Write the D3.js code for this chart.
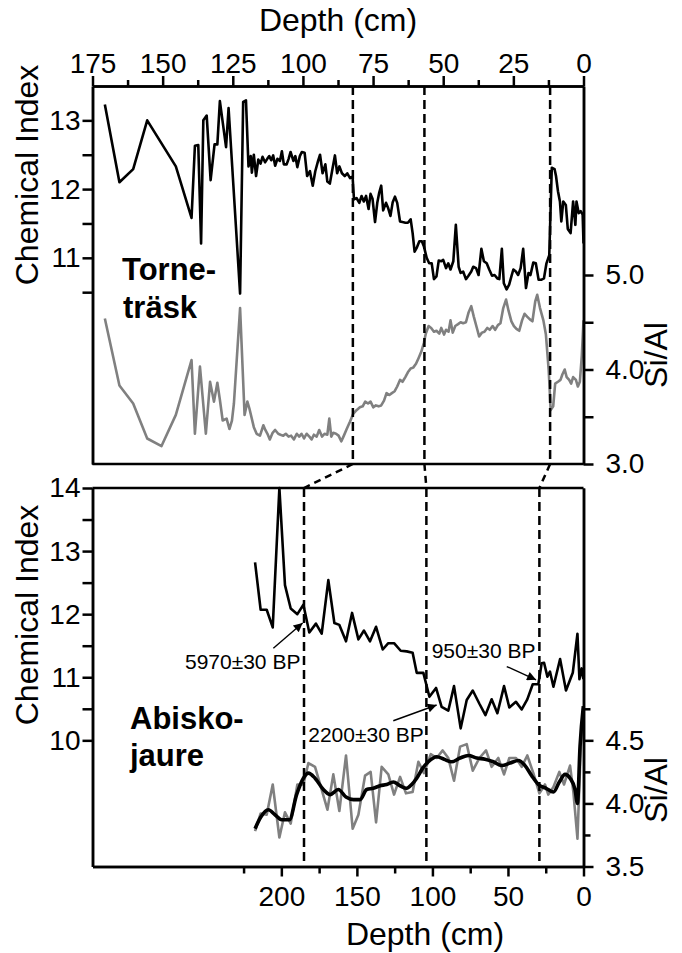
<!DOCTYPE html>
<html><head><meta charset="utf-8">
<script src="https://cdn.jsdelivr.net/npm/d3@7"></script>
<style>
html,body{margin:0;padding:0;background:#fff;}
svg{display:block;font-family:"Liberation Sans",Arial,sans-serif;}
</style></head>
<body>
<svg id="chart" width="682" height="953"></svg>
<script>
// ---------- DATA ----------
// Torneträsk (top panel): Chemical Index vs depth
const tDepthCI = [170.6,165.4,160.5,155.5,145.3,139.7,138.5,137.3,136.3,135.5,134.3,132.9,131.5,130.5,129.6,127.4,126.5,122.4,121.3,120.3,119.4,118.6,118.2,117.5,116.7,115.9,115.1,114.4,113.5,112.7,112.0,111.3,110.6,109.9,109.1,108.2,107.5,106.8,105.8,105.1,104.4,103.4,102.7,102.0,101.1,100.4,99.4,98.5,97.5,96.5,95.6,94.6,93.9,93.0,92.0,91.3,90.4,89.4,88.6,87.8,87.0,86.1,85.1,84.2,83.2,82.3,81.8,80.9,79.9,79.1,78.3,77.5,76.6,75.9,75.2,74.3,73.5,72.8,72.1,71.4,70.4,69.6,68.8,68.0,67.2,66.4,65.4,64.5,63.5,62.6,61.6,60.9,60.2,59.5,58.5,57.6,56.9,55.9,55.0,54.1,53.3,52.4,51.6,50.7,50.0,49.0,48.2,47.4,46.4,45.5,44.5,43.8,42.9,41.9,41.0,40.0,39.3,38.3,37.4,36.4,35.5,34.5,33.6,32.6,31.7,30.7,30.0,29.1,28.4,27.4,26.5,25.7,25.0,24.1,23.3,22.4,21.5,20.5,19.6,18.9,17.9,17.0,16.0,15.1,14.1,13.2,12.2,11.3,10.3,9.8,9.1,8.4,7.9,7.2,6.3,5.6,4.6,3.7,2.9,2.5,1.7,1.0,0.3,0.0];
const tCI = [13.23,12.10,12.29,13.00,12.33,11.58,12.63,12.64,11.21,13.00,13.07,12.13,12.65,12.65,13.28,12.61,13.18,10.48,13.27,13.29,12.33,12.48,12.24,12.50,12.19,12.43,12.37,12.47,12.39,12.44,12.48,12.42,12.49,12.34,12.44,12.41,12.55,12.36,12.36,12.44,12.54,12.41,12.48,12.32,12.48,12.54,12.53,12.19,12.26,12.05,12.26,12.41,12.50,12.23,12.36,12.11,12.08,12.31,12.49,12.23,12.33,12.23,12.19,12.23,12.16,12.18,11.85,11.87,11.80,11.90,11.82,11.90,11.71,11.93,11.86,11.52,11.80,11.95,12.05,11.69,11.80,11.72,11.61,11.81,11.89,11.80,11.53,11.52,11.51,11.51,11.56,11.36,11.09,11.14,11.24,11.24,11.17,11.00,10.92,10.92,10.69,10.73,10.96,10.95,10.97,10.85,10.92,10.83,10.95,11.48,10.87,10.78,10.80,10.69,10.74,10.80,10.87,10.85,10.75,11.13,10.95,10.92,10.83,10.74,10.75,10.70,10.69,11.13,10.63,10.54,10.61,10.73,10.83,10.80,10.75,10.85,11.13,10.56,10.78,10.75,10.93,10.92,10.68,10.68,10.70,10.92,11.04,12.31,12.29,12.19,11.97,11.82,11.53,11.82,11.77,11.42,11.36,11.82,11.48,11.82,11.65,11.68,11.63,11.21];

// Torneträsk: Si/Al vs depth
const tDepthSi = [170.6,165.4,160.5,155.5,150.4,145.3,139.7,138.5,136.7,134.6,133.1,131.7,130.5,129.6,128.6,127.2,126.2,125.3,124.6,122.4,120.8,119.8,119.1,117.5,116.5,115.3,114.1,113.4,112.5,111.8,110.8,109.9,108.8,108.0,107.0,106.1,105.1,104.2,103.2,102.2,101.3,100.5,99.6,98.7,97.7,96.9,96.1,95.1,94.2,93.2,92.3,91.3,90.6,89.9,89.2,88.2,87.3,86.3,85.4,84.4,83.2,82.1,80.9,79.7,78.7,77.8,76.8,75.9,74.9,74.0,73.0,72.1,71.1,70.2,69.2,68.3,67.3,66.4,65.4,64.5,63.5,62.6,61.6,60.7,59.7,58.8,57.8,56.9,56.2,55.2,54.3,53.3,52.4,51.4,50.7,49.7,49.0,48.1,47.4,46.6,45.7,44.7,43.8,42.9,41.9,41.0,40.0,39.1,38.1,37.2,36.2,35.3,34.3,33.4,32.4,31.5,30.5,29.6,28.6,27.6,26.7,25.7,24.8,23.9,22.9,21.9,21.0,20.1,19.1,18.2,17.2,16.5,15.5,14.3,13.4,12.4,11.7,10.8,10.1,9.1,8.2,7.5,6.7,6.0,5.1,4.4,3.7,2.7,2.0,1.3,0.6,0.0];
const tSi = [4.54,3.83,3.64,3.27,3.19,3.52,4.10,3.32,4.03,3.32,3.87,3.66,3.86,3.68,3.46,3.48,3.37,3.46,3.64,4.65,3.52,3.66,3.59,3.39,3.32,3.30,3.41,3.36,3.31,3.26,3.33,3.36,3.32,3.31,3.30,3.32,3.29,3.30,3.26,3.32,3.29,3.32,3.27,3.32,3.29,3.26,3.31,3.29,3.36,3.29,3.32,3.31,3.48,3.29,3.33,3.32,3.30,3.24,3.30,3.37,3.45,3.53,3.57,3.60,3.61,3.66,3.64,3.66,3.60,3.62,3.61,3.62,3.67,3.75,3.73,3.75,3.77,3.82,3.89,3.87,3.92,3.97,4.01,4.02,4.06,4.12,4.19,4.28,4.38,4.46,4.44,4.40,4.41,4.38,4.44,4.37,4.42,4.40,4.52,4.39,4.46,4.48,4.50,4.49,4.50,4.60,4.67,4.56,4.45,4.35,4.39,4.40,4.44,4.42,4.46,4.42,4.47,4.49,4.65,4.74,4.62,4.51,4.46,4.43,4.41,4.52,4.59,4.56,4.53,4.51,4.72,4.79,4.65,4.52,4.37,3.99,3.57,3.61,3.85,3.87,3.89,3.95,4.00,3.92,3.89,3.85,3.92,3.89,3.82,3.87,4.15,4.52];

// Abiskojaure (bottom panel): Chemical Index vs depth
const bDepthCI = [217.4,213.7,209.7,205.7,201.3,197.6,193.8,189.4,185.4,181.5,177.1,173.3,168.9,164.9,161.6,157.2,153.2,149.0,145.3,141.3,137.3,132.9,129.2,125.4,121.0,117.0,113.1,110.4,106.0,102.0,97.6,93.9,89.5,85.7,81.3,77.3,73.3,68.9,64.9,60.8,57.0,52.6,49.1,44.7,40.9,37.2,33.6,29.9,27.7,26.1,23.9,22.2,19.9,15.5,11.6,7.1,4.0,2.7,1.2,0.1];
const bCI = [12.82,12.07,12.07,11.79,14.00,12.46,12.09,12.00,12.15,11.71,11.85,11.69,12.54,11.86,11.83,11.57,12.02,11.60,11.74,11.57,11.80,11.44,11.54,11.54,11.42,11.41,11.39,11.07,11.07,10.69,10.83,10.53,10.47,10.86,10.19,10.64,10.79,10.58,10.40,10.65,10.43,10.86,10.52,10.61,10.49,10.65,10.89,10.89,11.22,11.23,11.01,11.09,10.85,11.29,10.79,11.07,11.69,10.97,11.14,10.97];

// Abiskojaure: Si/Al raw and smoothed
const bDepthSi = [217.4,213.7,209.7,205.7,201.3,197.6,193.8,189.4,185.4,182.1,177.7,173.3,169.5,165.6,161.6,157.2,152.8,149.0,144.6,140.9,137.3,133.6,129.2,125.4,121.4,117.5,113.1,109.3,105.6,101.1,97.2,93.2,89.5,85.7,81.7,77.3,73.3,68.9,64.5,60.8,56.4,52.6,49.1,44.7,40.9,37.2,33.2,29.2,25.5,23.3,19.9,16.0,12.9,8.9,6.7,4.0,1.8,0.1];
const bSi = [3.78,3.92,3.91,4.15,3.73,3.93,3.84,4.15,4.15,4.32,4.29,4.11,3.95,4.23,3.94,4.38,3.80,3.91,4.22,4.25,3.85,4.29,4.23,4.07,4.21,4.08,4.09,4.33,4.24,4.39,4.36,4.42,4.36,4.18,4.45,4.47,4.26,4.36,4.42,4.29,4.36,4.23,4.36,4.36,4.29,4.38,4.24,4.08,4.15,4.07,4.13,4.25,4.15,4.30,4.09,3.72,4.45,4.77];
const bDepthSmooth = [217.4,213.7,208.6,204.2,199.8,194.7,189.9,185.4,182.1,177.7,172.2,167.8,162.3,157.2,152.3,147.9,143.5,139.1,134.7,130.3,125.9,121.4,117.0,113.7,110.4,106.4,102.7,97.2,92.3,87.3,81.7,76.2,70.7,65.2,59.7,54.2,48.6,43.1,38.7,34.3,29.9,24.8,19.9,16.0,12.2,8.9,5.6,4.0,2.3,0.1];
const bSmooth = [3.80,3.89,3.95,3.91,3.87,3.87,4.07,4.20,4.24,4.20,4.11,4.07,4.11,4.05,4.03,4.03,4.11,4.12,4.14,4.15,4.17,4.14,4.12,4.15,4.20,4.28,4.33,4.37,4.35,4.33,4.36,4.38,4.36,4.35,4.33,4.30,4.32,4.34,4.30,4.22,4.15,4.12,4.09,4.17,4.23,4.20,4.11,4.00,4.45,4.77];

// Tie points (dashed correlation lines), depth in cm
const tieTop = [82.2, 56.7, 11.9];
const tieBottom = [185, 104, 29.2];

// Tick values
const topDepthTicks = [175,150,125,100,75,50,25,0];
const topDepthMinor = [162.5,137.5,112.5,87.5,62.5,37.5,12.5];
const topCITicks = [13,12,11];
const topCIMinor = [12.5,11.5,10.5];
const topSiTicks = [5,4,3];
const topSiMinor = [4.5,3.5];
const botDepthTicks = [200,150,100,50,0];
const botDepthMinor = [225,175,125,75,25];
const botCITicks = [14,13,12,11,10];
const botCIMinor = [13.5,12.5,11.5,10.5];
const botSiTicks = [4.5,4.0,3.5];
const botSiMinor = [4.75,4.25,3.75];

// Annotations: label, text anchor (depth, CI), arrow tail (depth, CI), arrow tip (depth, CI)
const annLabels = ["5970±30 BP","950±30 BP","2200±30 BP"];
const annText = [[263.8,11.13],[100.5,11.30],[182.2,9.98]];
const annTail = [[205.3,11.46],[50.8,11.17],[125.9,10.31]];
const annTip = [[185.9,11.86],[31.4,10.96],[97.2,10.56]];

// ---------- LAYOUT ----------
const L = 92.5, R = 583.5;
const T1 = 86, B1 = 464, T2 = 488, B2 = 866.5;

const xTop = d3.scaleLinear().domain([175,0]).range([L,R]);
const yTopCI = d3.scaleLinear().domain([8,13.5]).range([B1,T1]);
const yTopSi = d3.scaleLinear().domain([3,7]).range([B1,T1]);
const xBot = d3.scaleLinear().domain([325,0]).range([L,R]);
const yBotCI = d3.scaleLinear().domain([8,14]).range([B2,T2]);
const yBotSi = d3.scaleLinear().domain([3.5,6.5]).range([B2,T2]);

const svg = d3.select("#chart");
svg.append("rect").attr("width",682).attr("height",953).attr("fill","#fff");

const defs = svg.append("defs");
defs.append("marker").attr("id","arr").attr("viewBox","0 0 10 10")
  .attr("refX",10).attr("refY",5).attr("markerWidth",12).attr("markerHeight",9)
  .attr("markerUnits","userSpaceOnUse").attr("orient","auto")
  .append("path").attr("d","M0,0 L10,5 L0,10 Z").attr("fill","#000");

const tickFont = "28px";
const titleFont = "32px";

function styleAxis(g){
  g.selectAll("path.domain").attr("stroke","#000").attr("stroke-width",2.5);
  g.selectAll(".tick line").attr("stroke","#000").attr("stroke-width",2.5);
  g.selectAll(".tick text").attr("fill","#000").style("font-size",tickFont)
    .style("font-family",'"Liberation Sans",Arial,sans-serif');
}
function addAxis(axis, tx, ty){
  const g = svg.append("g").attr("transform",`translate(${tx},${ty})`).call(axis);
  styleAxis(g);
  return g;
}

// ---------- TOP PANEL ----------
const lineTopCI = d3.line().x(d=>xTop(d[0])).y(d=>yTopCI(d[1]));
const lineTopSi = d3.line().x(d=>xTop(d[0])).y(d=>yTopSi(d[1]));
svg.append("path").datum(d3.zip(tDepthSi,tSi)).attr("d",lineTopSi)
  .attr("fill","none").attr("stroke","#808080").attr("stroke-width",2.6).attr("stroke-linejoin","round");
svg.append("path").datum(d3.zip(tDepthCI,tCI)).attr("d",lineTopCI)
  .attr("fill","none").attr("stroke","#000").attr("stroke-width",2.6).attr("stroke-linejoin","round");

// top axis
addAxis(d3.axisTop(xTop).tickValues(topDepthTicks).tickSize(10).tickPadding(3).tickSizeOuter(0).tickFormat(d3.format("d")),0,T1);
addAxis(d3.axisTop(xTop).tickValues(topDepthMinor).tickSize(6).tickFormat("").tickSizeOuter(0),0,T1);
// left axis
addAxis(d3.axisLeft(yTopCI).tickValues(topCITicks).tickSize(10).tickPadding(2).tickSizeOuter(0).tickFormat(d3.format("d")),L,0);
addAxis(d3.axisLeft(yTopCI).tickValues(topCIMinor).tickSize(10).tickFormat("").tickSizeOuter(0),L,0);
// right axis
addAxis(d3.axisRight(yTopSi).tickValues(topSiTicks).tickSize(10).tickPadding(12).tickSizeOuter(0).tickFormat(d3.format(".1f")),R,0);
addAxis(d3.axisRight(yTopSi).tickValues(topSiMinor).tickSize(10).tickFormat("").tickSizeOuter(0),R,0);
// bottom frame line
svg.append("line").attr("x1",L).attr("x2",R).attr("y1",B1).attr("y2",B1).attr("stroke","#000").attr("stroke-width",2.5);

// ---------- BOTTOM PANEL ----------
const lineBotCI = d3.line().x(d=>xBot(d[0])).y(d=>yBotCI(d[1]));
const lineBotSi = d3.line().x(d=>xBot(d[0])).y(d=>yBotSi(d[1]));
svg.append("path").datum(d3.zip(bDepthSi,bSi)).attr("d",lineBotSi)
  .attr("fill","none").attr("stroke","#808080").attr("stroke-width",2.6).attr("stroke-linejoin","round");
svg.append("path").datum(d3.zip(bDepthSmooth,bSmooth)).attr("d",lineBotSi.curve(d3.curveMonotoneX))
  .attr("fill","none").attr("stroke","#000").attr("stroke-width",3.6).attr("stroke-linejoin","round");
svg.append("path").datum(d3.zip(bDepthCI,bCI)).attr("d",lineBotCI)
  .attr("fill","none").attr("stroke","#000").attr("stroke-width",2.6).attr("stroke-linejoin","round");

// bottom axis
addAxis(d3.axisBottom(xBot).tickValues(botDepthTicks).tickSize(10).tickPadding(10).tickSizeOuter(0).tickFormat(d3.format("d")),0,B2);
addAxis(d3.axisBottom(xBot).tickValues(botDepthMinor).tickSize(7).tickFormat("").tickSizeOuter(0),0,B2);
// left axis
addAxis(d3.axisLeft(yBotCI).tickValues(botCITicks).tickSize(10).tickPadding(2).tickSizeOuter(0).tickFormat(d3.format("d")),L,0);
addAxis(d3.axisLeft(yBotCI).tickValues(botCIMinor).tickSize(10).tickFormat("").tickSizeOuter(0),L,0);
// right axis
addAxis(d3.axisRight(yBotSi).tickValues(botSiTicks).tickSize(10).tickPadding(12).tickSizeOuter(0).tickFormat(d3.format(".1f")),R,0);
addAxis(d3.axisRight(yBotSi).tickValues(botSiMinor).tickSize(7).tickFormat("").tickSizeOuter(0),R,0);
// top frame line
svg.append("line").attr("x1",L).attr("x2",R).attr("y1",T2).attr("y2",T2).attr("stroke","#000").attr("stroke-width",2.5);

// ---------- DASHED TIE LINES ----------
const dash = "9,5";
tieTop.forEach((d,i)=>{
  svg.append("line").attr("x1",xTop(d)).attr("x2",xTop(d)).attr("y1",T1).attr("y2",B1)
    .attr("stroke","#000").attr("stroke-width",2.5).attr("stroke-dasharray",dash);
  svg.append("line").attr("x1",xTop(d)).attr("x2",xBot(tieBottom[i])).attr("y1",B1).attr("y2",T2)
    .attr("stroke","#000").attr("stroke-width",2.5).attr("stroke-dasharray","7,5");
  svg.append("line").attr("x1",xBot(tieBottom[i])).attr("x2",xBot(tieBottom[i])).attr("y1",T2).attr("y2",B2)
    .attr("stroke","#000").attr("stroke-width",2.5).attr("stroke-dasharray",dash);
});

// ---------- ANNOTATIONS ----------
annLabels.forEach((lab,i)=>{
  svg.append("line")
    .attr("x1",xBot(annTail[i][0])).attr("y1",yBotCI(annTail[i][1]))
    .attr("x2",xBot(annTip[i][0])).attr("y2",yBotCI(annTip[i][1]))
    .attr("stroke","#000").attr("stroke-width",1.4).attr("marker-end","url(#arr)");
  svg.append("text").attr("x",xBot(annText[i][0])).attr("y",yBotCI(annText[i][1]))
    .style("font-size","21px").attr("fill","#000").text(lab);
});

// ---------- TEXT LABELS ----------
svg.append("text").attr("x",(L+R)/2).attr("y",31).attr("text-anchor","middle").style("font-size",titleFont).text("Depth (cm)");
svg.append("text").attr("x",(L+R)/2+87).attr("y",945).attr("text-anchor","middle").style("font-size",titleFont).text("Depth (cm)");
svg.append("text").attr("transform","translate(38,175) rotate(-90)").attr("text-anchor","middle").style("font-size",titleFont).text("Chemical Index");
svg.append("text").attr("transform","translate(38,615) rotate(-90)").attr("text-anchor","middle").style("font-size",titleFont).text("Chemical Index");
svg.append("text").attr("transform","translate(667,355) rotate(-90)").attr("text-anchor","middle").style("font-size",titleFont).text("Si/Al");
svg.append("text").attr("transform","translate(667,790) rotate(-90)").attr("text-anchor","middle").style("font-size",titleFont).text("Si/Al");

const bold = (x,y,t)=>svg.append("text").attr("x",x).attr("y",y).style("font-size","31px").style("font-weight","bold").text(t);
bold(122,280,"Torne-");
bold(123,318,"träsk");
bold(130,729,"Abisko-");
bold(130,766,"jaure");
</script>
</body></html>
